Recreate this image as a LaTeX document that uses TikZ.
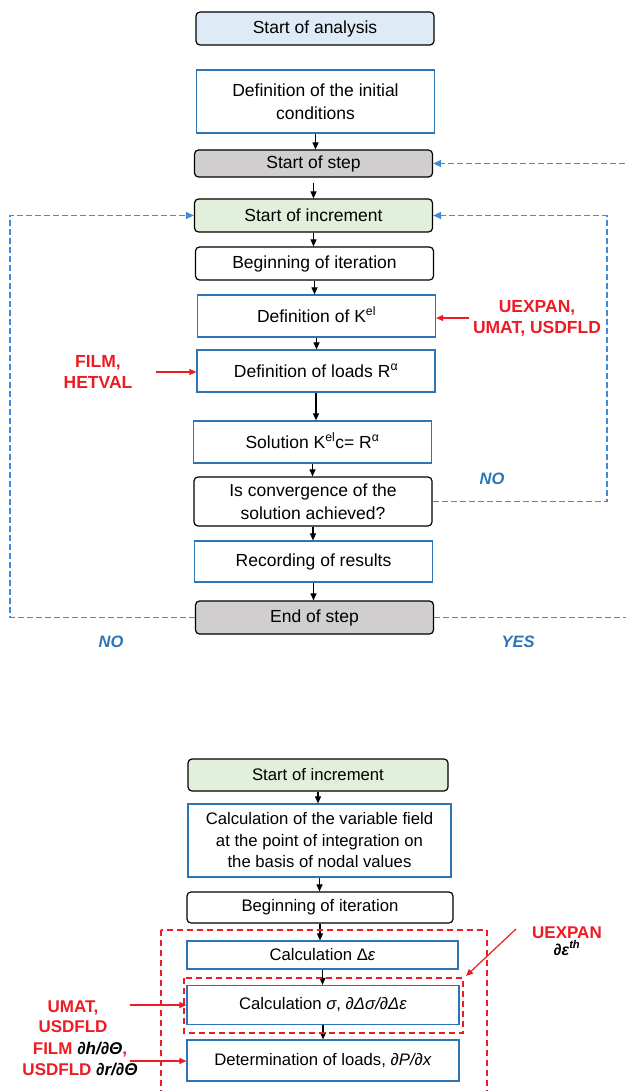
\documentclass[tikz,border=0pt]{standalone}
\usepackage{fontspec}
\setmainfont{Liberation Sans}
\usetikzlibrary{arrows.meta}
\definecolor{box blue}{RGB}{46,117,182}
\definecolor{loop blue}{RGB}{66,140,215}
\definecolor{answer blue}{RGB}{46,117,182}
\definecolor{hint red}{RGB}{237,28,36}
\definecolor{step gray}{RGB}{208,206,206}
\definecolor{start blue}{RGB}{222,235,247}
\definecolor{increment green}{RGB}{226,239,218}
\newcommand{\supsmash}[1]{\smash{\textsuperscript{#1}}}
\tikzset{box/.style={minimum width=238pt, minimum height=33pt, inner sep=1pt, align=center, font=\fontsize{17.5}{23}\selectfont, line width=1.2pt}}
\tikzset{terminal/.style={box, draw=black, rounded corners=4pt}}
\tikzset{process/.style={box, draw=box blue}}
\tikzset{flow/.style={line width=1.1pt, -{Triangle[length=7pt, width=6pt]}}}
\tikzset{loop/.style={draw=loop blue, dash pattern=on 6pt off 3pt, line width=1.2pt, -{Triangle[length=8pt, width=7pt]}}}
\tikzset{answer/.style={text=answer blue, font=\fontsize{16.5}{20}\selectfont\bfseries\itshape}}
\tikzset{hint/.style={text=hint red, align=center, font=\fontsize{17.5}{21}\selectfont\bfseries}}
\tikzset{hintarrow/.style={draw=hint red, line width=1.2pt, -{Triangle[length=7pt, width=6pt]}}}
\tikzset{zone/.style={draw=hint red, dash pattern=on 6pt off 4pt, line width=1.1pt}}

\begin{document}
\begin{tikzpicture}[x=1pt, y=-1pt]
    \useasboundingbox (0,0) rectangle (625,1091);
    % step loop
    \node[terminal, fill=start blue] (analysis) at (315,28.5) {Start of analysis};
    \node[process, minimum height=63pt] (initcond) at (315.5,101.5) {Definition of the initial\\conditions};
    \node[terminal, fill=step gray, minimum height=27pt] (stepstart) at (313.5,163.5) {Start of step};
    \node[terminal, fill=increment green] (incstart) at (313.5,215.5) {Start of increment};
    \node[terminal] (iterbegin) at (314.5,263.5) {Beginning of iteration};
    \node[process, minimum height=42pt] (kdef) at (316.5,316) {Definition of K\supsmash{el}};
    \node[process, minimum height=42pt] (loaddef) at (316,371) {Definition of loads R\supsmash{α}};
    \node[process, minimum height=42pt] (solution) at (312.5,442) {Solution K\supsmash{el}c= R\supsmash{α}};
    \node[terminal, minimum height=49pt] (converge) at (313,501.5) {Is convergence of the\\solution achieved?};
    \node[process, minimum height=41pt] (results) at (313.5,561.5) {Recording of results};
    \node[terminal, fill=step gray] (stepend) at (314.5,617.5) {End of step};

    \draw[flow] (initcond.south) -- (initcond.south |- stepstart.north);
    \draw[flow, shorten <=5pt] (stepstart.south) -- (stepstart.south |- incstart.north);
    \draw[flow] (incstart.south) -- (incstart.south |- iterbegin.north);
    \draw[flow] (iterbegin.south) -- (iterbegin.south |- kdef.north);
    \draw[flow] (kdef.south) -- (kdef.south |- loaddef.north);
    \draw[flow] (loaddef.south) -- (loaddef.south |- solution.north);
    \draw[flow] (solution.south) -- (solution.south |- converge.north);
    \draw[flow] (converge.south) -- (converge.south |- results.north);
    \draw[flow] (results.south) -- (results.south |- stepend.north);

    \coordinate (left rail) at (10,0);
    \coordinate (right rail) at (607,0);
    \coordinate (outer rail) at (640,0);
    \draw[loop] (stepend.west) -| (left rail |- incstart.west) -- (incstart.west);
    \draw[loop] (converge.east) -| (right rail |- incstart.east) -- (incstart.east);
    \draw[loop] (stepend.east) -| (outer rail |- stepstart.east) -- (stepstart.east);
    \node[answer] (no inner) at (492,479) {NO};
    \node[answer] (no outer) at (111,642) {NO};
    \node[answer] (yes outer) at (518,642) {YES};

    \node[hint] (kdef hint) at (537,318) {UEXPAN,\\UMAT, USDFLD};
    \node[hint] (load hint) at (98,372) {FILM,\\HETVAL};
    \draw[hintarrow] (kdef hint.west) -- (kdef hint.west -| kdef.east);
    \draw[hintarrow] ([xshift=20pt]load hint.east) -- (load hint.east -| loaddef.west);

    % increment detail
    \begin{scope}[box/.append style={font=\fontsize{16.7}{21.5}\selectfont}]
        \node[terminal, fill=increment green, minimum width=260pt, minimum height=32pt] (incstart2) at (318,775) {Start of increment};
        \node[process, minimum width=263pt, minimum height=73pt] (varfield) at (319.5,840.5) {Calculation of the variable field\\at the point of integration on\\the basis of nodal values};
        \node[terminal, minimum width=266pt, minimum height=31pt] (iterbegin2) at (320,907.5) {Beginning of iteration};
        \node[process, minimum width=271pt, minimum height=28pt] (strain) at (322.5,955) {Calculation Δ\textit{ε}};
        \node[process, minimum width=272pt, minimum height=39pt] (stress) at (323,1005) {Calculation \textit{σ}, \textit{∂Δσ/∂Δε}};
        \node[process, minimum width=272pt, minimum height=41pt] (loads) at (323,1060.5) {Determination of loads, \textit{∂P/∂x}};
    \end{scope}

    \draw[flow] (incstart2.south) -- (incstart2.south |- varfield.north);
    \draw[flow] (varfield.south) -- (varfield.south |- iterbegin2.north);
    \draw[flow] (iterbegin2.south) -- (iterbegin2.south |- strain.north);
    \draw[flow] (strain.south) -- (strain.south |- stress.north);
    \draw[flow] (stress.south) -- (stress.south |- loads.north);

    \draw[zone] (161,930) rectangle (487,1100);
    \draw[zone] (184,978) rectangle (463,1033);

    \node[hint, font=\fontsize{17}{17}\selectfont\bfseries] (strain hint) at (567,941) {UEXPAN\\{\color{black}\fontsize{16}{17}\selectfont\itshape ∂ε\textsuperscript{th}}};
    \node[hint, font=\fontsize{17}{20}\selectfont\bfseries] (stress hint) at (73,1017) {UMAT,\\USDFLD};
    \node[hint, font=\fontsize{17}{21}\selectfont\bfseries] (loads hint) at (80,1059) {FILM {\color{black}\itshape ∂h/∂Θ},\\USDFLD {\color{black}\itshape ∂r/∂Θ}};
    \coordinate (strain from) at (516,929);
    \coordinate (inner corner) at (466,976);
    \coordinate (stress from) at (130,1005);
    \coordinate (loads from) at (130,1061);
    \draw[hintarrow] (strain from) -- (inner corner);
    \draw[hintarrow] (stress from) -- (stress.west);
    \draw[hintarrow] (loads from) -- (loads from -| loads.west);
\end{tikzpicture}
\end{document}
